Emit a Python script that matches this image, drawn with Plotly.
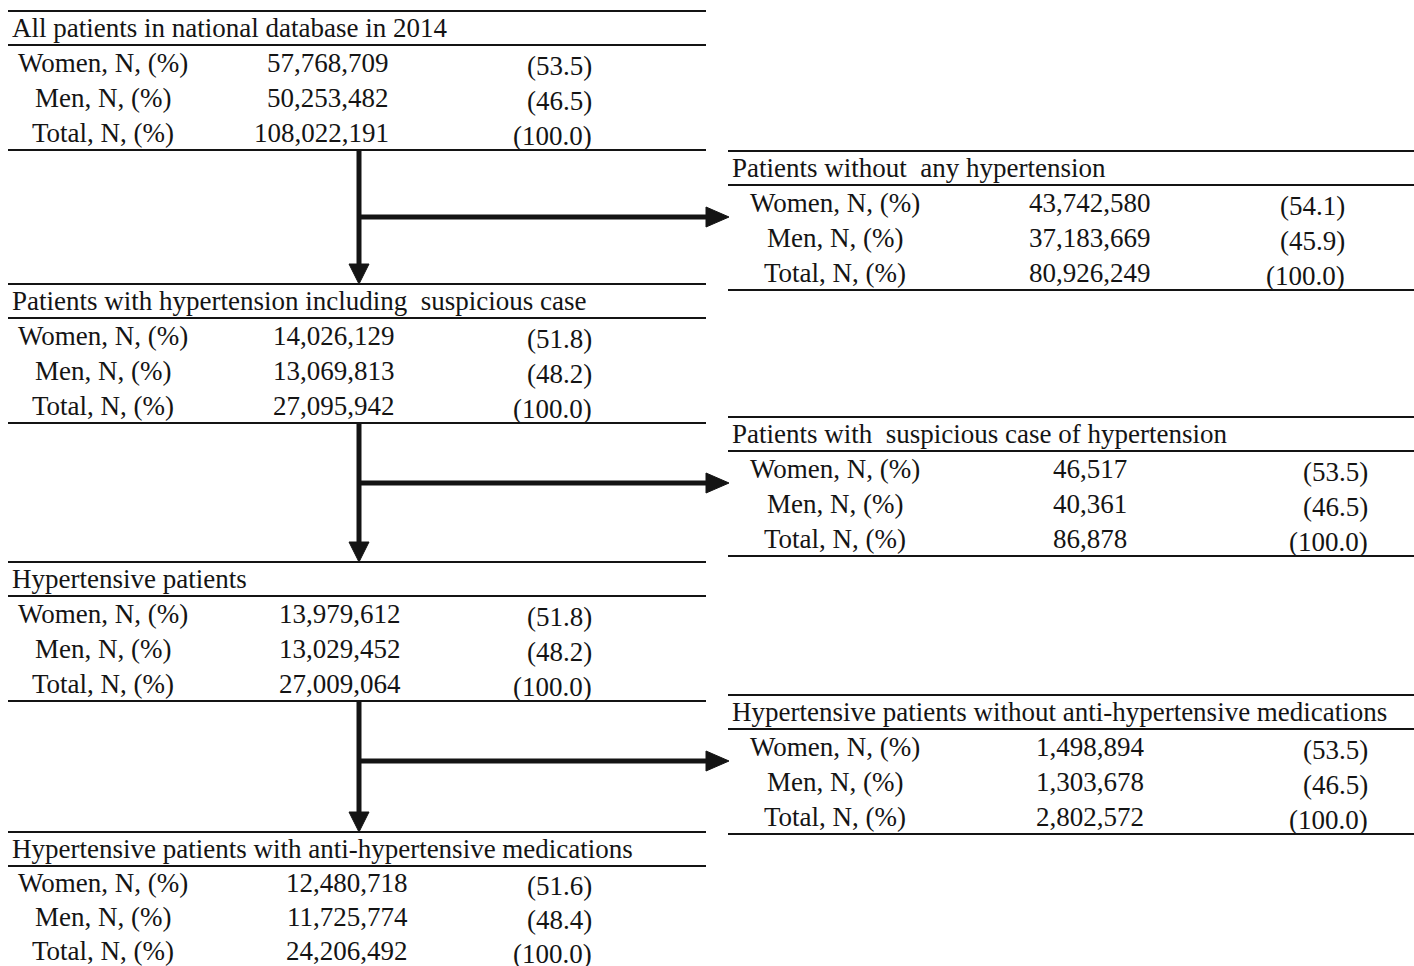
import plotly.graph_objects as go

# Flowchart content
left_titles = [
    "All patients in national database in 2014",
    "Patients with hypertension including  suspicious case",
    "Hypertensive patients",
    "Hypertensive patients with anti-hypertensive medications",
]
left_women = ["57,768,709", "14,026,129", "13,979,612", "12,480,718"]
left_men = ["50,253,482", "13,069,813", "13,029,452", "11,725,774"]
left_total = ["108,022,191", "27,095,942", "27,009,064", "24,206,492"]
left_women_pct = ["(53.5)", "(51.8)", "(51.8)", "(51.6)"]
left_men_pct = ["(46.5)", "(48.2)", "(48.2)", "(48.4)"]
left_total_pct = ["(100.0)", "(100.0)", "(100.0)", "(100.0)"]

right_titles = [
    "Patients without  any hypertension",
    "Patients with  suspicious case of hypertension",
    "Hypertensive patients without anti-hypertensive medications",
]
right_women = ["43,742,580", "46,517", "1,498,894"]
right_men = ["37,183,669", "40,361", "1,303,678"]
right_total = ["80,926,249", "86,878", "2,802,572"]
right_women_pct = ["(54.1)", "(53.5)", "(53.5)"]
right_men_pct = ["(45.9)", "(46.5)", "(46.5)"]
right_total_pct = ["(100.0)", "(100.0)", "(100.0)"]

row_labels = ["Women, N, (%)", "Men, N, (%)", "Total, N, (%)"]

FONT = "Liberation Serif, Times New Roman, serif"
FS = 27
INK = "#141414"

W, H = 1414, 966
fig = go.Figure()
shapes = []
annots = []


def hline(x0, x1, y, w=2):
    shapes.append(dict(type="line", x0=x0, x1=x1, y0=y, y1=y,
                       line=dict(color=INK, width=w)))


def text(x, y, s, anchor="left"):
    annots.append(dict(x=x, y=y, text=s, showarrow=False, xanchor=anchor,
                       yanchor="middle", font=dict(family=FONT, size=FS, color=INK)))


def box(top, x0, x1, title, nums, pcts, label_x, num_x, num_anchor, pct_x,
        bottom=True, step=35, first=52):
    hline(x0, x1, top)
    text(x0 + 2, top + 17, title)
    hline(x0, x1, top + 34)
    for i in range(3):
        y = top + first + i * step
        text(label_x, y, row_labels[i], "center")
        text(num_x, y, nums[i], num_anchor)
        text(pct_x, y + 3, pcts[i], "right")
    if bottom:
        hline(x0, x1, top + 139)


# left column boxes
left_tops = [11, 284, 562, 832]
left_num_x = [391, 397, 403, 410]
for k in range(4):
    last = k == 3
    box(left_tops[k], 8, 706, left_titles[k],
        [left_women[k], left_men[k], left_total[k]],
        [left_women_pct[k], left_men_pct[k], left_total_pct[k]],
        103, left_num_x[k], "right", 594, bottom=not last,
        step=34 if last else 35, first=51 if last else 52)

# right column boxes
right_tops = [151, 417, 695]
right_pct_x = [1347, 1370, 1370]
for k in range(3):
    box(right_tops[k], 728, 1414, right_titles[k],
        [right_women[k], right_men[k], right_total[k]],
        [right_women_pct[k], right_men_pct[k], right_total_pct[k]],
        835, 1090, "center", right_pct_x[k])

# arrows between boxes
ax = 359
for k in range(3):
    y_start = left_tops[k] + 139
    y_end = left_tops[k + 1]
    y_mid = right_tops[k] + 66
    shapes.append(dict(type="line", x0=ax, x1=ax, y0=y_start, y1=y_end - 18,
                       line=dict(color=INK, width=5)))
    shapes.append(dict(type="path",
                       path=f"M {ax-10},{y_end-20} L {ax+10},{y_end-20} L {ax},{y_end} Z",
                       fillcolor=INK, line=dict(color=INK, width=1)))
    shapes.append(dict(type="line", x0=ax, x1=710, y0=y_mid, y1=y_mid,
                       line=dict(color=INK, width=5)))
    shapes.append(dict(type="path",
                       path=f"M 706,{y_mid-10} L 706,{y_mid+10} L 729,{y_mid} Z",
                       fillcolor=INK, line=dict(color=INK, width=1)))

fig.update_layout(
    width=W, height=H,
    margin=dict(l=0, r=0, t=0, b=0),
    paper_bgcolor="white", plot_bgcolor="white",
    xaxis=dict(range=[0, W], visible=False, fixedrange=True),
    yaxis=dict(range=[H, 0], visible=False, fixedrange=True),
    shapes=shapes, annotations=annots,
    showlegend=False,
)
fig.write_html("out.html", config={"displayModeBar": False},
               post_script="document.body.style.margin='0';document.body.style.overflow='hidden';")
